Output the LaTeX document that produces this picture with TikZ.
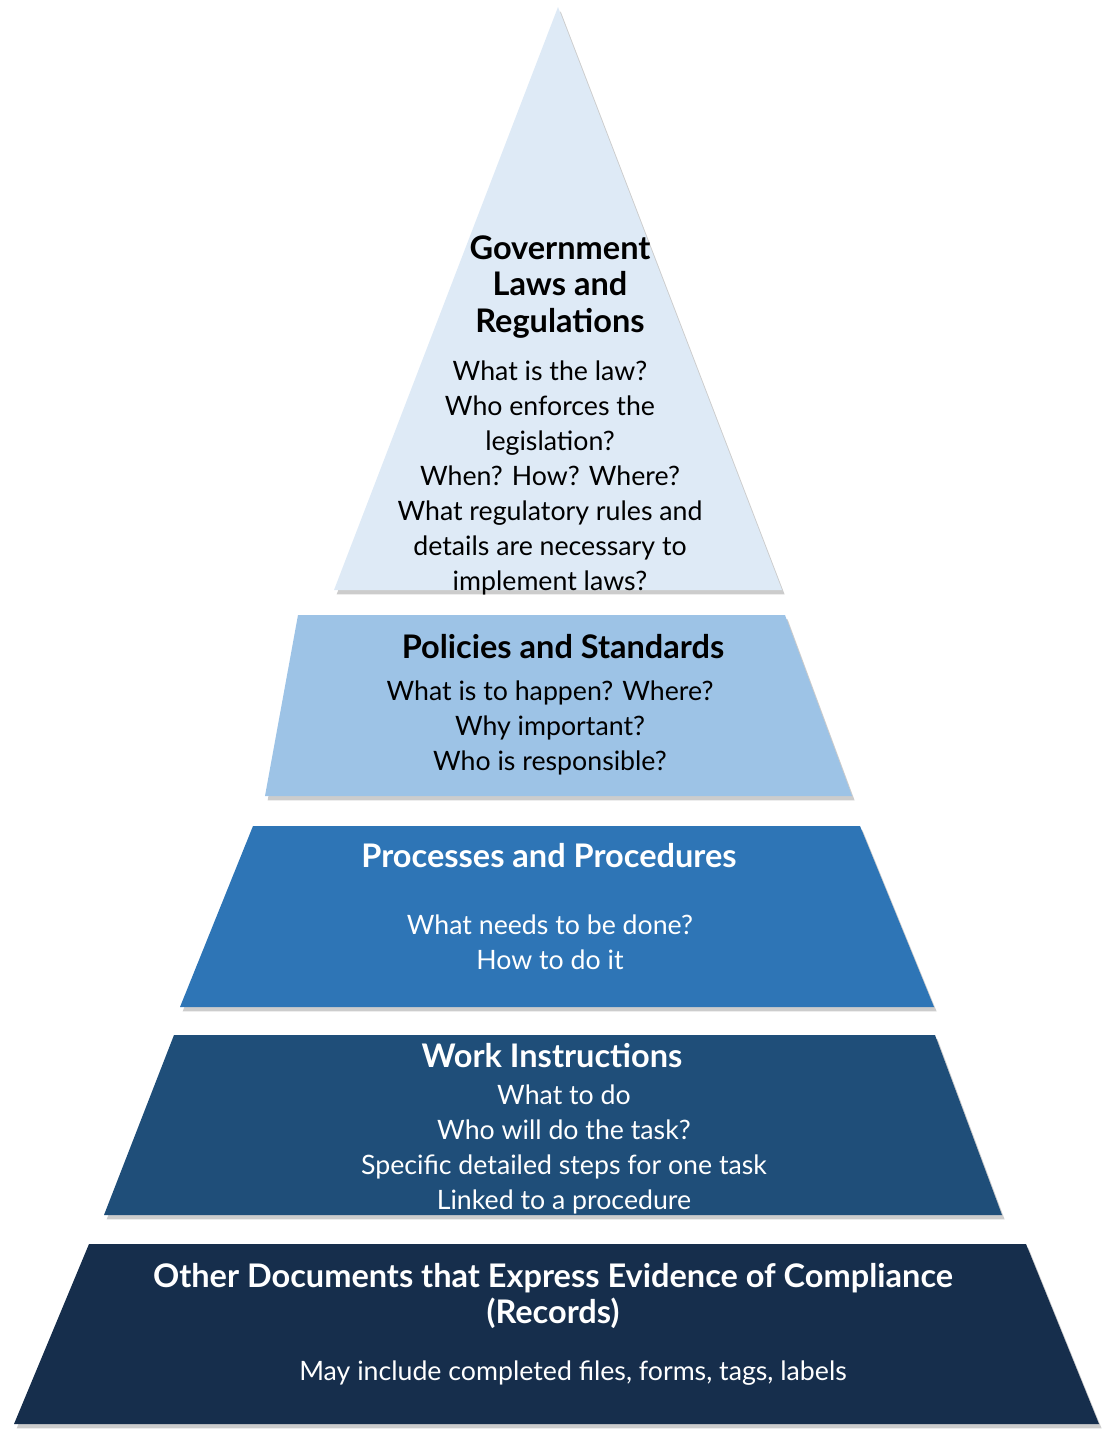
\documentclass[tikz,border=0pt]{standalone}
\usepackage{fontspec}
\setmainfont{Lato}
\usetikzlibrary{shadows}
\definecolor{lvlone}{HTML}{DEEAF6}
\definecolor{lvltwo}{HTML}{9DC3E6}
\definecolor{lvlthree}{HTML}{2E75B6}
\definecolor{lvlfour}{HTML}{1F4E79}
\definecolor{lvlfive}{HTML}{162E4C}
\tikzstyle{level} = [drop shadow={shadow xshift=1.5pt, shadow yshift=-2.5pt, opacity=0.4}]
\tikzstyle{title} = [align=center, font=\fontsize{18.5}{21}\selectfont\bfseries]
\tikzstyle{body} = [align=center, font=\fontsize{15.2}{19.9}\selectfont]

\begin{document}
\begin{tikzpicture}[x=0.02cm, y=-0.02cm]
    \useasboundingbox (0,0) rectangle (1105,1438);
    % Draw levels
    \path [level, fill=lvlone] (558,7) -- (782,590) -- (334,590) -- cycle;
    \path [level, fill=lvltwo] (298,615) -- (785,615) -- (852,796) -- (265,796) -- cycle;
    \path [level, fill=lvlthree] (253,826) -- (860,826) -- (934,1007) -- (180,1007) -- cycle;
    \path [level, fill=lvlfour] (174,1035) -- (935,1035) -- (1002,1215) -- (104,1215) -- cycle;
    \path [level, fill=lvlfive] (89,1244) -- (1026,1244) -- (1099,1424) -- (14,1424) -- cycle;
    % Place nodes
    \node [title] (gov) at (560,287) {Government\\Laws and\\Regulations};
    \node [body] (gov_q) at (550,478) {What is the law?\\Who enforces the\\legislation?\\When? How? Where?\\What regulatory rules and\\details are necessary to\\implement laws?};
    \node [title] (pol) at (563,647) {Policies and Standards};
    \node [body] (pol_q) at (550,728) {What is to happen? Where?\\Why important?\\Who is responsible?};
    \node [title, text=white] (proc) at (549,856) {Processes and Procedures};
    \node [body, text=white] (proc_q) at (550,942) {What needs to be done?\\How to do it};
    \node [title, text=white] (work) at (552,1056) {Work Instructions};
    \node [body, text=white] (work_q) at (564,1149) {What to do\\Who will do the task?\\Specific detailed steps for one task\\Linked to a procedure};
    \node [title, text=white] (rec) at (553,1296) {Other Documents that Express Evidence of Compliance\\(Records)};
    \node [body, text=white] (rec_q) at (573,1373) {May include completed files, forms, tags, labels};
\end{tikzpicture}
\end{document}
